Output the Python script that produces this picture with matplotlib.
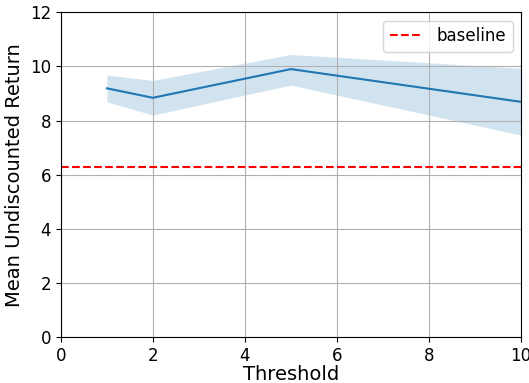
import matplotlib
matplotlib.use("Agg")
import matplotlib.pyplot as plt
import numpy as np

thresholds = [1, 2, 5, 10]
mean_return = [9.19, 8.84, 9.90, 8.69]
lower = [8.69, 8.20, 9.31, 7.46]
upper = [9.68, 9.48, 10.44, 9.93]
baseline = 6.3

fig, ax = plt.subplots(figsize=(5.29, 3.83), dpi=100)
ax.plot(thresholds, mean_return, color='tab:blue')
ax.fill_between(thresholds, lower, upper, color='tab:blue', alpha=0.2, linewidth=0)
ax.axhline(baseline, color='r', linestyle='--', label='baseline')
ax.set_xlim(0, 10)
ax.set_ylim(0, 12)
ax.set_xlabel('Threshold', fontsize=14, labelpad=0)
ax.set_ylabel('Mean Undiscounted Return', fontsize=14)
ax.tick_params(labelsize=12)
ax.grid(True)
ax.legend(fontsize=12)
fig.subplots_adjust(left=0.115, right=0.985, top=0.968, bottom=0.12)
fig.savefig('out.png')
